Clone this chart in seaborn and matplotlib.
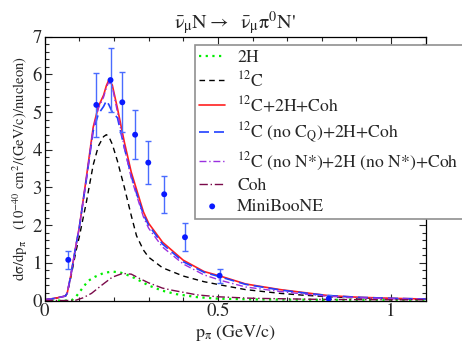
import seaborn as sns
import matplotlib.pyplot as plt
import pandas as pd
import numpy as np

sns.set_style("ticks")
plt.rcParams['font.family'] = ['STIXGeneral', 'DejaVu Serif']
plt.rcParams['mathtext.fontset'] = 'stix'

# model curves, common momentum grid (GeV/c)
p_grid = [0, 0.03, 0.06, 0.065, 0.075, 0.09, 0.10, 0.12, 0.14, 0.155, 0.17, 0.178,
          0.185, 0.195, 0.21, 0.23, 0.25, 0.265, 0.285, 0.30, 0.34, 0.40, 0.46, 0.51,
          0.58, 0.68, 0.75, 0.82, 0.91, 1.0, 1.1]
c12 = [0.02, 0.06, 0.12, 0.2, 0.6, 1.3, 1.7, 2.6, 3.6, 4.1, 4.35, 4.4,
       4.35, 4.15, 3.7, 3.0, 2.25, 1.72, 1.34, 1.15, 0.87, 0.65, 0.5, 0.41,
       0.29, 0.19, 0.14, 0.1, 0.07, 0.05, 0.035]
total = [0.02, 0.06, 0.12, 0.2, 0.65, 1.45, 1.95, 3.25, 4.6, 5.15, 5.45, 5.7,
         5.85, 5.72, 5.1, 4.2, 3.4, 2.95, 2.35, 2.05, 1.55, 1.07, 0.77, 0.64,
         0.44, 0.29, 0.21, 0.13, 0.085, 0.06, 0.04]
no_cq = [0.02, 0.06, 0.12, 0.2, 0.65, 1.45, 1.95, 3.2, 4.5, 4.95, 5.15, 5.3,
         5.2, 5.0, 4.85, 4.05, 3.3, 2.85, 2.28, 2.0, 1.5, 1.03, 0.75, 0.62,
         0.43, 0.28, 0.2, 0.13, 0.085, 0.06, 0.04]
no_nstar = [0.02, 0.06, 0.12, 0.2, 0.65, 1.45, 1.95, 3.2, 4.55, 5.1, 5.4, 5.65,
            5.8, 5.68, 5.0, 4.05, 3.25, 2.8, 2.22, 1.92, 1.42, 0.97, 0.68, 0.53,
            0.36, 0.24, 0.17, 0.11, 0.075, 0.05, 0.035]

p_2h = [0, 0.07, 0.08, 0.09, 0.1, 0.11, 0.125, 0.145, 0.17, 0.195, 0.22, 0.25,
        0.28, 0.30, 0.34, 0.38, 0.44, 0.5, 0.6, 0.8, 1.0, 1.1]
h2 = [0, 0.0, 0.02, 0.1, 0.22, 0.34, 0.52, 0.63, 0.73, 0.77, 0.74, 0.64,
      0.5, 0.4, 0.26, 0.17, 0.09, 0.05, 0.03, 0.02, 0.02, 0.02]

p_coh = [0, 0.06, 0.09, 0.11, 0.135, 0.165, 0.195, 0.225, 0.25, 0.275, 0.30,
         0.34, 0.37, 0.44, 0.5, 0.6, 0.8, 1.0, 1.1]
coh = [0, 0.0, 0.01, 0.07, 0.19, 0.41, 0.62, 0.72, 0.7, 0.58, 0.47,
       0.33, 0.27, 0.15, 0.1, 0.06, 0.03, 0.02, 0.02]

# MiniBooNE data
p_data = [0.068, 0.149, 0.190, 0.224, 0.261, 0.299, 0.345, 0.405, 0.505, 0.82]
xs_data = [1.08, 5.19, 5.85, 5.26, 4.40, 3.66, 2.82, 1.68, 0.66, 0.05]
err_data = [0.24, 0.86, 0.84, 0.80, 0.65, 0.56, 0.49, 0.37, 0.19, 0.09]

fig = plt.figure(figsize=(4.62, 3.54), dpi=100)
ax = fig.add_axes([0.0968, 0.151, 0.8246, 0.7453])

def curve(x, y, **kw):
    sns.lineplot(x=x, y=y, ax=ax, sort=False, estimator=None, **kw)

curve(p_2h, h2, color='#00ee00', linestyle=(0, (1, 2)), lw=1.6, label='2H')
curve(p_grid, c12, color='black', linestyle=(0, (4, 3)), lw=1.0, label=r'$^{12}$C')
curve(p_grid, total, color='#ff2020', lw=1.2, label=r'$^{12}$C+2H+Coh')
curve(p_grid, no_cq, color='#2040ff', linestyle=(0, (6, 3)), lw=1.2,
      label=r'$^{12}$C (no C$_\mathrm{Q}$)+2H+Coh')
curve(p_grid, no_nstar, color='#9a30e0', linestyle=(0, (5, 2, 1, 2)), lw=1.0,
      label=r'$^{12}$C (no N*)+2H (no N*)+Coh')
curve(p_coh, coh, color='#7a0a4a', linestyle=(0, (6, 2, 1, 2)), lw=1.0, label='Coh')

ax.errorbar(p_data, xs_data, yerr=err_data, fmt='none', ecolor='#4a6cff',
            elinewidth=1.0, capsize=2.5, capthick=1.0)
sns.scatterplot(x=p_data, y=xs_data, ax=ax, color='#0a1aff', s=18,
                edgecolor='none', label='MiniBooNE', zorder=5)

ax.set_xlim(0, 1.1)
ax.set_ylim(0, 7)
ax.set_xticks([0, 0.5, 1])
ax.set_xticklabels(['0', '0.5', '1'])
ax.set_yticks(range(8))
ax.set_xticks(np.arange(0, 1.11, 0.1), minor=True)
ax.set_yticks(np.arange(0, 7.01, 0.2), minor=True)
ax.tick_params(which='both', direction='in', top=True, right=True, labelsize=13.5)
ax.tick_params(which='major', length=5, width=0.8, pad=2)
ax.tick_params(which='minor', length=3, width=0.8)
for s in ax.spines.values():
    s.set_linewidth(0.9)
    s.set_color('black')

ax.set_xlabel(r'p$_\mathrm{\pi}$ (GeV/c)', fontsize=13, labelpad=2)
ax.set_ylabel(r'd$\mathrm{\sigma}$/dp$_\mathrm{\pi}$   (10$^{-40}$ cm$^2$/(GeV/c)/nucleon)',
              fontsize=10.5, labelpad=2)
ax.set_title(r"$\bar{\mathrm{\nu}}_\mathrm{\mu}\mathrm{N} \rightarrow\ \ "
             r"\bar{\mathrm{\nu}}_\mathrm{\mu}\mathrm{\pi}^0\mathrm{N}$'",
             fontsize=14.5, pad=6)

leg = ax.legend(loc='upper left', bbox_to_anchor=(0.422, 0.873),
                bbox_transform=fig.transFigure, fontsize=12.7, frameon=True,
                fancybox=False, handlelength=1.45, handletextpad=0.7,
                labelspacing=0.27, borderpad=0.25, borderaxespad=0)
leg.get_frame().set_edgecolor('#909090')
leg.get_frame().set_linewidth(1.2)
leg.get_frame().set_alpha(1)
leg.set_clip_on(False)

fig.savefig('out.png', dpi=100)
